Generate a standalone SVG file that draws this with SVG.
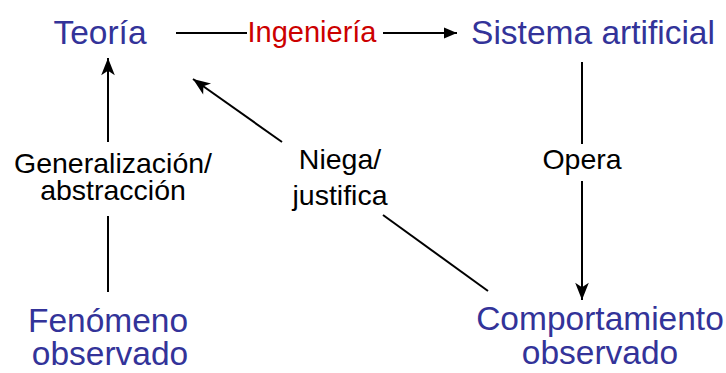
<svg xmlns="http://www.w3.org/2000/svg" width="726" height="373" viewBox="0 0 726 373">
  <style>
    text { font-family: "Liberation Sans", Arial, sans-serif; }
    .node { fill: #333399; font-size: 33.5px; }
    .red { fill: #cc0000; font-size: 29px; }
    .lbl { fill: #000000; font-size: 28.5px; }
    .edge { stroke: #000000; stroke-width: 2; fill: none; }
  </style>
  <defs>
    <marker id="tri" markerUnits="userSpaceOnUse" markerWidth="16" markerHeight="14" refX="0" refY="0" viewBox="-14 -7 16 14" orient="auto" overflow="visible">
      <path d="M0,0 L-13,-5.5 L-13,5.5 Z" fill="#000"/>
    </marker>
    <marker id="stealth" markerUnits="userSpaceOnUse" markerWidth="20" markerHeight="16" refX="0" refY="0" viewBox="-20 -8 22 16" orient="auto" overflow="visible">
      <path d="M0,0 L-19,-7.5 L-14,0 L-19,7.5 Z" fill="#000"/>
    </marker>
  </defs>

  <g id="connectors">
    <line class="edge" x1="176" y1="33" x2="247" y2="33"/>
    <line class="edge" x1="383" y1="33" x2="457" y2="33" marker-end="url(#tri)"/>
    <line class="edge" x1="108" y1="292" x2="108" y2="216"/>
    <line class="edge" x1="108" y1="142" x2="108" y2="58" marker-end="url(#stealth)"/>
    <line class="edge" x1="582" y1="62" x2="582" y2="144"/>
    <line class="edge" x1="582" y1="181" x2="582" y2="300" marker-end="url(#stealth)"/>
    <line class="edge" x1="488" y1="291" x2="383" y2="215"/>
    <line class="edge" x1="282" y1="142" x2="193" y2="79" marker-end="url(#stealth)"/>
  </g>

  <g id="teoria">
    <text class="node" x="100" y="44" text-anchor="middle">Teoría</text>
  </g>
  <g id="sistema-artificial">
    <text class="node" x="593" y="44" text-anchor="middle">Sistema artificial</text>
  </g>
  <g id="fenomeno-observado">
    <text class="node" x="108" y="332" text-anchor="middle">Fenómeno</text>
    <text class="node" x="110" y="365" text-anchor="middle">observado</text>
  </g>
  <g id="comportamiento-observado">
    <text class="node" x="600" y="330" text-anchor="middle">Comportamiento</text>
    <text class="node" x="600" y="364" text-anchor="middle">observado</text>
  </g>

  <g id="labels">
    <text class="red" x="312" y="42" text-anchor="middle">Ingeniería</text>
    <text class="lbl" x="113" y="173" text-anchor="middle">Generalización/</text>
    <text class="lbl" x="113" y="200" text-anchor="middle">abstracción</text>
    <text class="lbl" x="340" y="169" text-anchor="middle">Niega/</text>
    <text class="lbl" x="340" y="205" text-anchor="middle">justifica</text>
    <text class="lbl" x="582" y="169" text-anchor="middle">Opera</text>
  </g>
</svg>
